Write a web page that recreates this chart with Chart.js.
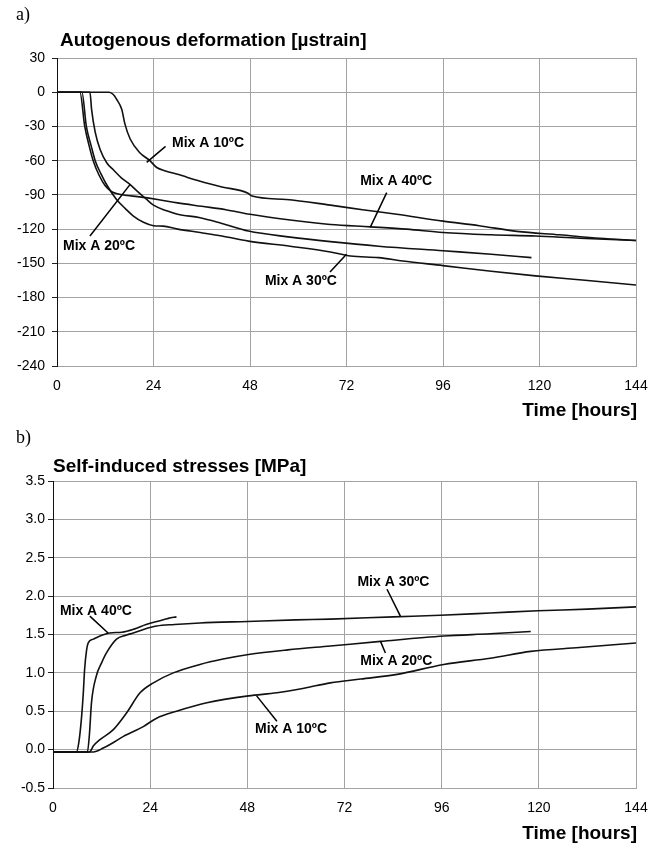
<!DOCTYPE html>
<html>
<head>
<meta charset="utf-8">
<script src="https://cdn.jsdelivr.net/npm/chart.js@4.4.1/dist/chart.umd.min.js"></script>
<style>
	html, body { margin: 0; padding: 0; background: #fff; }
	.panel { position: absolute; left: 0; width: 660px; height: 423px; }
	#panelA { top: 0; }
	#panelB { top: 423px; }
</style>
</head>
<body>
<div class="panel" id="panelA"><canvas id="chartA" width="660" height="423"></canvas></div>
<div class="panel" id="panelB"><canvas id="chartB" width="660" height="423"></canvas></div>
<script>
// ticks
var timeTicks = [0, 24, 48, 72, 96, 120, 144];
var strainTicks = [30, 0, -30, -60, -90, -120, -150, -180, -210, -240];
var stressTicks = [3.5, 3.0, 2.5, 2.0, 1.5, 1.0, 0.5, 0.0, -0.5];

// a) autogenous deformation [microstrain]
var def10Time = [0, 13, 14, 14.8, 16.1, 16.9, 18.2, 20.6, 23.1, 24.8, 27, 30, 35.6, 41, 47.5, 48.5, 57, 68, 76, 84.5, 96, 105, 114.4, 125, 135, 144];
var def10 = [0, 0, -2, -6, -15, -28, -41, -53, -60, -66, -69, -72, -78, -83, -88.5, -91, -94, -99, -103, -107, -113, -117, -122, -125, -128, -130];
var def20Time = [0, 8.2, 8.6, 9.5, 10.7, 12.4, 14, 16, 18.2, 20, 22.3, 24, 27.3, 30, 35.6, 41, 47.6, 58, 68, 80, 96, 108, 118];
var def20 = [0, 0, -15, -35, -50, -62, -68, -75, -81, -87, -94, -99, -104, -107, -110, -115, -121.7, -127, -131, -135, -139, -142, -145];
var def30Time = [0, 6.2, 7.3, 8.5, 9.5, 11, 12.5, 14.8, 17, 19, 21.5, 24, 26.4, 30, 35.6, 41, 47.6, 58, 68, 73, 80, 86, 96, 108, 119, 132, 144];
var def30 = [0, 0, -30, -47, -60, -72, -82, -94, -102, -108.6, -114, -117, -117.4, -120, -123, -126, -130.5, -135, -140, -143.6, -145, -148, -152, -157, -161, -165, -169];
var def40Time = [0, 5.7, 6.9, 8, 9, 10.5, 12, 13.5, 15, 17.5, 20, 25, 30, 36, 42, 48, 58, 68, 78, 87, 96, 108, 119, 130, 144];
var def40 = [0, 0, -30, -47, -60, -73, -82, -87, -89, -90.5, -91.5, -94, -97, -100, -103, -107, -112, -116, -118, -120, -123, -125, -126, -128, -130];

// b) self-induced stresses [MPa]
var str10Time = [0, 10, 12.4, 14.5, 17.3, 22.3, 25.6, 30.5, 38, 48.3, 55.3, 62, 68.5, 76, 85, 96.5, 108, 118, 130, 144];
var str10 = [-0.03, -0.03, 0.02, 0.08, 0.17, 0.30, 0.41, 0.5, 0.61, 0.70, 0.74, 0.80, 0.87, 0.92, 0.98, 1.11, 1.19, 1.28, 1.33, 1.39];
var str20Time = [0, 9, 10, 11.6, 14.9, 18.2, 21.5, 24.8, 29.7, 36.3, 42, 48.3, 58, 68.5, 80.9, 96.5, 108, 118];
var str20 = [-0.03, -0.03, 0.05, 0.13, 0.26, 0.48, 0.74, 0.87, 1.0, 1.11, 1.18, 1.24, 1.3, 1.35, 1.41, 1.48, 1.51, 1.54];
var str30Time = [0, 8.5, 9, 9.5, 10.7, 12, 13.2, 15.7, 18, 19.8, 22, 25.6, 30, 36.3, 48, 60, 68.5, 84, 95.7, 108, 119.7, 132, 144];
var str30 = [-0.03, -0.03, 0.2, 0.61, 0.96, 1.13, 1.26, 1.44, 1.49, 1.52, 1.56, 1.61, 1.63, 1.65, 1.67, 1.69, 1.70, 1.73, 1.75, 1.78, 1.81, 1.83, 1.86];
var str40Time = [0, 5.8, 6.4, 7, 7.5, 7.8, 8.3, 8.7, 10, 11.6, 14, 17, 20, 23, 26.4, 28.5, 30.5];
var str40 = [-0.03, -0.03, 0.1, 0.39, 0.75, 1.04, 1.3, 1.39, 1.44, 1.48, 1.52, 1.53, 1.57, 1.63, 1.68, 1.71, 1.73];

// curve labels: text, text anchor, pointer start, pointer end (data units)
var labelsA = [
	{ text: "Mix A 10ºC", at: [28.6, -45], from: [27, -47.5], to: [22.3, -61.5] },
	{ text: "Mix A 40ºC", at: [75.4, -78], from: [82, -88], to: [77.9, -118.5] },
	{ text: "Mix A 20ºC", at: [1.5, -135], from: [8.2, -126], to: [18.2, -80.8] },
	{ text: "Mix A 30ºC", at: [51.7, -166], from: [67.9, -157.7], to: [72, -142] }
];
var labelsB = [
	{ text: "Mix A 40ºC", at: [1.7, 1.805], from: [9.1, 1.74], to: [13.6, 1.52] },
	{ text: "Mix A 30ºC", at: [75.2, 2.18], from: [82.5, 2.09], to: [85.8, 1.74] },
	{ text: "Mix A 20ºC", at: [75.9, 1.15], from: [82.1, 1.26], to: [80.9, 1.41] },
	{ text: "Mix A 10ºC", at: [49.9, 0.27], from: [55.3, 0.37], to: [50.3, 0.70] }
];

var sansFont = "'Liberation Sans', Arial, sans-serif";

function pairs(ts, vs) {
	return ts.map(function(t, i) { return { x: t, y: vs[i] }; });
}

function line(ts, vs) {
	return {
		data: pairs(ts, vs),
		borderColor: '#111',
		borderWidth: 1.6,
		pointRadius: 0,
		fill: false,
		cubicInterpolationMode: 'monotone'
	};
}

// draws the panel letter, titles and curve labels
var decorations = {
	id: 'decorations',
	afterDraw: function(chart, args, opts) {
		var ctx = chart.ctx;
		var xs = chart.scales.x, ys = chart.scales.y;
		ctx.save();
		ctx.fillStyle = '#000';
		ctx.textBaseline = 'alphabetic';
		ctx.textAlign = 'left';
		ctx.font = "18px 'Liberation Serif', 'Times New Roman', serif";
		ctx.fillText(opts.letter, 16, 20);
		ctx.font = "bold 19px " + sansFont;
		ctx.fillText(opts.title, opts.titleX, opts.titleY);
		ctx.textAlign = 'right';
		ctx.fillText("Time [hours]", 637, 416);

		ctx.font = "bold 14px " + sansFont;
		ctx.textAlign = 'left';
		ctx.textBaseline = 'middle';
		ctx.strokeStyle = '#000';
		ctx.lineWidth = 1.5;
		opts.labels.forEach(function(l) {
			ctx.fillText(l.text, xs.getPixelForValue(l.at[0]), ys.getPixelForValue(l.at[1]));
			ctx.beginPath();
			ctx.moveTo(xs.getPixelForValue(l.from[0]), ys.getPixelForValue(l.from[1]));
			ctx.lineTo(xs.getPixelForValue(l.to[0]), ys.getPixelForValue(l.to[1]));
			ctx.stroke();
		});
		ctx.restore();
	}
};

function makeChart(id, datasets, yTicks, yMin, yMax, yWidth, yPad, xHeight, deco, fmt) {
	return new Chart(document.getElementById(id), {
		type: 'line',
		data: { datasets: datasets },
		plugins: [decorations],
		options: {
			responsive: false,
			animation: false,
			devicePixelRatio: 1,
			layout: { padding: { left: 0, right: 24, top: 58, bottom: 0 } },
			plugins: {
				legend: { display: false },
				tooltip: { enabled: false },
				decorations: deco
			},
			scales: {
				x: {
					type: 'linear',
					min: 0,
					max: 144,
					afterBuildTicks: function(scale) {
						scale.ticks = timeTicks.map(function(v) { return { value: v }; });
					},
					afterFit: function(scale) { scale.height = xHeight; },
					grid: { color: '#a3a3a3', lineWidth: 1, drawTicks: false },
					border: { color: '#a3a3a3', width: 1 },
					ticks: {
						color: '#000',
						padding: 12,
						maxRotation: 0,
						font: { family: sansFont, size: 14 }
					}
				},
				y: {
					type: 'linear',
					min: yMin,
					max: yMax,
					afterBuildTicks: function(scale) {
						scale.ticks = yTicks.map(function(v) { return { value: v }; });
					},
					afterFit: function(scale) { scale.width = yWidth; },
					grid: { color: '#a3a3a3', lineWidth: 1, drawTicks: true, tickLength: 5, tickColor: '#222' },
					border: { color: '#111', width: 1 },
					ticks: {
						color: '#000',
						padding: yPad,
						font: { family: sansFont, size: 14 },
						callback: fmt
					}
				}
			}
		}
	});
}

makeChart('chartA', [
	line(def10Time, def10),
	line(def20Time, def20),
	line(def30Time, def30),
	line(def40Time, def40)
], strainTicks, -240, 30, 57, 7, 57, {
	letter: 'a)',
	title: 'Autogenous deformation [\u00b5strain]',
	titleX: 60,
	titleY: 46,
	labels: labelsA
}, function(v) { return String(v); });

makeChart('chartB', [
	line(str10Time, str10),
	line(str20Time, str20),
	line(str30Time, str30),
	line(str40Time, str40)
], stressTicks, -0.5, 3.5, 53, 3, 58, {
	letter: 'b)',
	title: 'Self-induced stresses [MPa]',
	titleX: 53,
	titleY: 49,
	labels: labelsB
}, function(v) { return Number(v).toFixed(1); });
</script>
</body>
</html>
